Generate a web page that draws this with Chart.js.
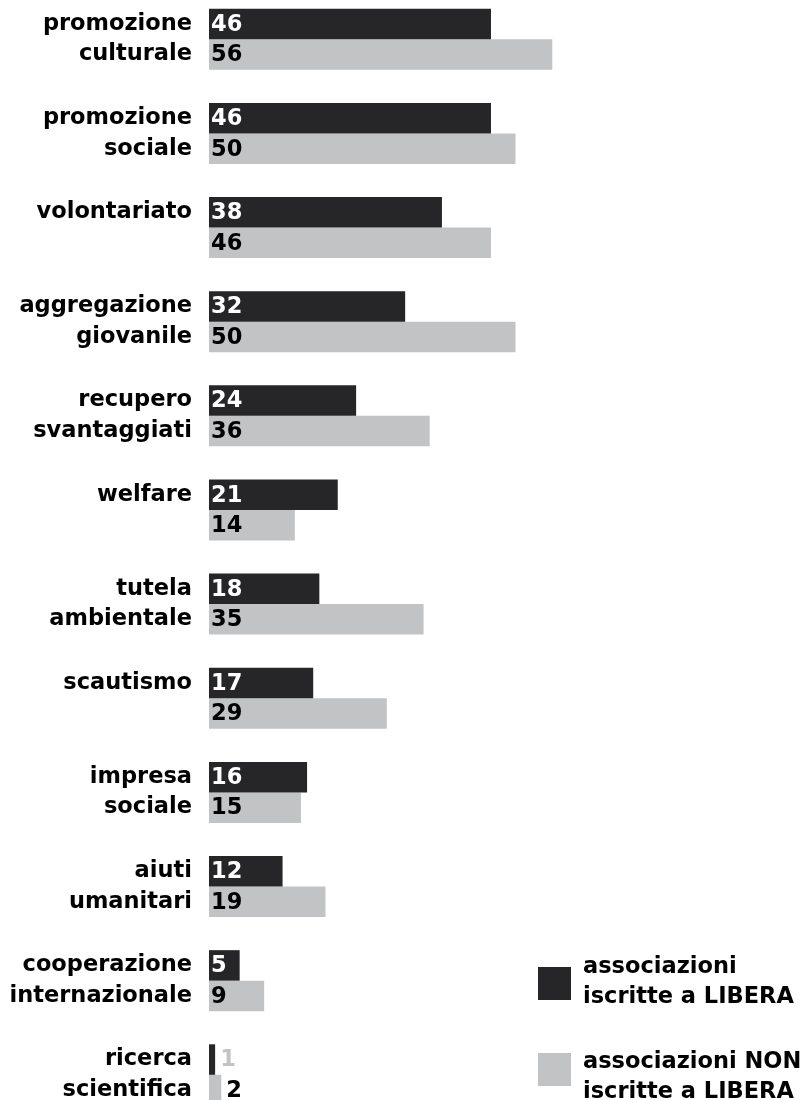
<!DOCTYPE html>
<html>
<head>
<meta charset="utf-8">
<script src="https://cdn.jsdelivr.net/npm/chart.js@4/dist/chart.umd.min.js"></script>
<style>
  html, body { margin: 0; padding: 0; background: #fff; }
  #wrap { position: relative; width: 801px; height: 1100px; overflow: hidden; }
  .key { position: absolute; left: 538px; width: 33px; height: 33px; }
  .keytext { position: absolute; left: 583px; font: bold 22.5px "DejaVu Sans"; line-height: 30px; color: #000; white-space: nowrap; }
</style>
</head>
<body>
<div id="wrap">
  <canvas id="canvas" width="801" height="1100"></canvas>
  <div class="key" style="top:967px; background:#262628;"></div>
  <div class="keytext" style="top:950px;">associazioni<br>iscritte a LIBERA</div>
  <div class="key" style="top:1053px; background:#c2c3c5;"></div>
  <div class="keytext" style="top:1045px;">associazioni NON<br>iscritte a LIBERA</div>
</div>
<script>
// categories (two lines each, single ones stay on the first line)
let categories = [
  ["promozione", "culturale"],
  ["promozione", "sociale"],
  ["volontariato", ""],
  ["aggregazione", "giovanile"],
  ["recupero", "svantaggiati"],
  ["welfare", ""],
  ["tutela", "ambientale"],
  ["scautismo", ""],
  ["impresa", "sociale"],
  ["aiuti", "umanitari"],
  ["cooperazione", "internazionale"],
  ["ricerca", "scientifica"]
];
// associazioni iscritte a LIBERA
let iscritte = [46, 46, 38, 32, 24, 21, 18, 17, 16, 12, 5, 1];
// associazioni NON iscritte a LIBERA
let nonIscritte = [56, 50, 46, 50, 36, 14, 35, 29, 15, 19, 9, 2];

const DARK = "#262628";
const LIGHT = "#c2c3c5";
const FONT = "DejaVu Sans";

//valeurs ecrites dans les barres
const valueLabels = {
  id: "valueLabels",
  afterDatasetsDraw(chart) {
    const ctx = chart.ctx;
    ctx.save();
    ctx.font = "bold 22.5px " + FONT;
    ctx.textBaseline = "middle";
    ctx.textAlign = "left";
    chart.data.datasets.forEach((ds, i) => {
      const meta = chart.getDatasetMeta(i);
      meta.data.forEach((bar, j) => {
        const txt = String(ds.data[j]);
        const w = ctx.measureText(txt).width;
        if (bar.x - bar.base > w + 6) {
          ctx.fillStyle = i === 0 ? "#fff" : "#000";
          ctx.fillText(txt, bar.base + 2, bar.y + 1);
        } else {
          // trop petit : a droite de la barre
          ctx.fillStyle = i === 0 ? LIGHT : "#000";
          ctx.fillText(txt, bar.x + 5, bar.y + 1);
        }
      });
    });
    ctx.restore();
  }
};

var ctx = document.getElementById("canvas").getContext("2d");
var chart = new Chart(ctx, {
  type: "bar",
  data: {
    labels: categories,
    datasets: [{
      label: "associazioni iscritte a LIBERA",
      backgroundColor: DARK,
      clip: false,
      data: iscritte
    }, {
      label: "associazioni NON iscritte a LIBERA",
      backgroundColor: LIGHT,
      clip: false,
      data: nonIscritte
    }]
  },
  options: {
    indexAxis: "y",
    responsive: false,
    animation: false,
    layout: { padding: { top: 39.3, bottom: 25.2, left: 0, right: 3.5 } },
    datasets: { bar: { categoryPercentage: 0.648, barPercentage: 1 } },
    plugins: { legend: { display: false }, tooltip: { enabled: false } },
    scales: {
      x: { display: false, min: 0, max: 96 },
      y: {
        offset: false,
        grid: { display: false, drawTicks: false },
        border: { display: false },
        ticks: {
          padding: 17,
          color: "#000",
          font: { family: FONT, size: 22.5, weight: "bold", lineHeight: 1.356 }
        },
        afterFit: function(scale) {
          scale.width = 209;
          // pas de marge en plus pour les etiquettes
          scale.paddingTop = 0;
          scale.paddingBottom = 0;
        }
      }
    }
  },
  plugins: [valueLabels]
});
</script>
</body>
</html>
